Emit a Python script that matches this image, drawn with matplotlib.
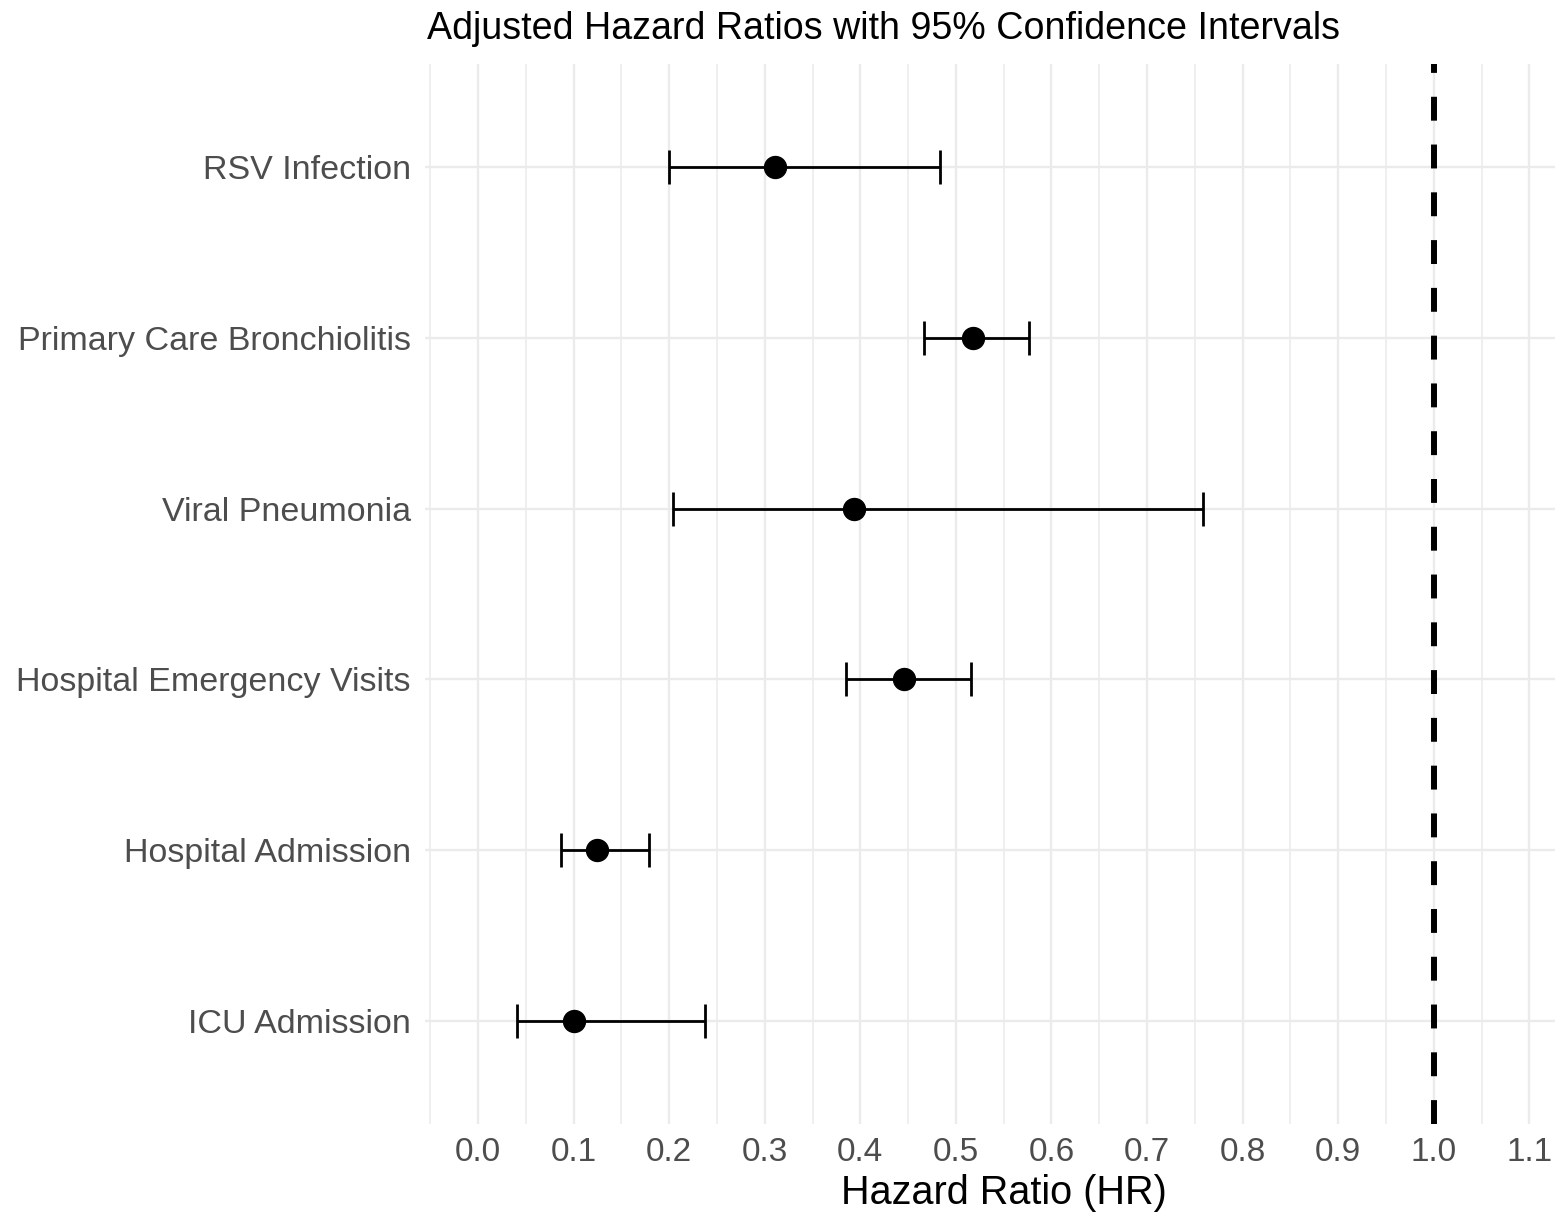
import matplotlib
matplotlib.use("Agg")
import matplotlib.pyplot as plt
import numpy as np
from matplotlib.ticker import MultipleLocator, FormatStrFormatter

# Adjusted hazard ratios, top to bottom
outcomes = ["RSV Infection", "Primary Care Bronchiolitis", "Viral Pneumonia",
            "Hospital Emergency Visits", "Hospital Admission", "ICU Admission"]
hr = [0.311, 0.518, 0.393, 0.446, 0.124, 0.100]
ci_low = [0.200, 0.467, 0.204, 0.385, 0.087, 0.041]
ci_high = [0.483, 0.576, 0.758, 0.516, 0.179, 0.237]

plt.rcParams["font.family"] = ["Liberation Sans", "DejaVu Sans"]

W, H = 1555, 1214
fig = plt.figure(figsize=(W / 100, H / 100), dpi=100)
# panel runs past the right edge of the picture (cropped ggplot output)
px_l, px_r, px_t, px_b = 425.4, 1582.0, 64.0, 1124.0
ax = fig.add_axes([px_l / W, 1 - px_b / H, (px_r - px_l) / W, (px_b - px_t) / H])

ypos = np.arange(len(outcomes))[::-1]
hr_a = np.array(hr)
xerr = np.vstack([hr_a - np.array(ci_low), np.array(ci_high) - hr_a])

ax.axvline(1.0, color="black", lw=4.3, dashes=(4, 4), zorder=2)
ax.errorbar(hr, ypos, xerr=xerr, fmt="none", ecolor="black", elinewidth=2.0,
            capsize=12.5, capthick=2.0, zorder=3)
ax.plot(hr, ypos, "o", color="black", markersize=15.8, zorder=4)

ax.set_xlim(-0.055, 1.155)
ax.set_ylim(-0.6, len(outcomes) - 0.4)
ax.xaxis.set_major_locator(MultipleLocator(0.1))
ax.xaxis.set_minor_locator(MultipleLocator(0.05))
ax.xaxis.set_major_formatter(FormatStrFormatter("%.1f"))
ax.set_yticks(ypos)
ax.set_yticklabels(outcomes)

ax.grid(which="major", color="#EBEBEB", lw=1.7, zorder=0)
ax.grid(which="minor", axis="x", color="#EBEBEB", lw=1.1, zorder=0)
ax.set_axisbelow(True)
for s in ax.spines.values():
    s.set_visible(False)
ax.tick_params(which="both", length=0)
ax.tick_params(axis="x", labelsize=24, labelcolor="#4D4D4D", pad=9.5)
ax.tick_params(axis="y", labelsize=24.5, labelcolor="#4D4D4D", pad=10.5)

ax.set_xlabel("Hazard Ratio (HR)", fontsize=28.5, color="black", labelpad=4)
fig.text(427 / W, 1 - 39 / H, "Adjusted Hazard Ratios with 95% Confidence Intervals",
         fontsize=27.1, color="black", ha="left", va="baseline")

fig.savefig("out.png", dpi=100, facecolor="white")
